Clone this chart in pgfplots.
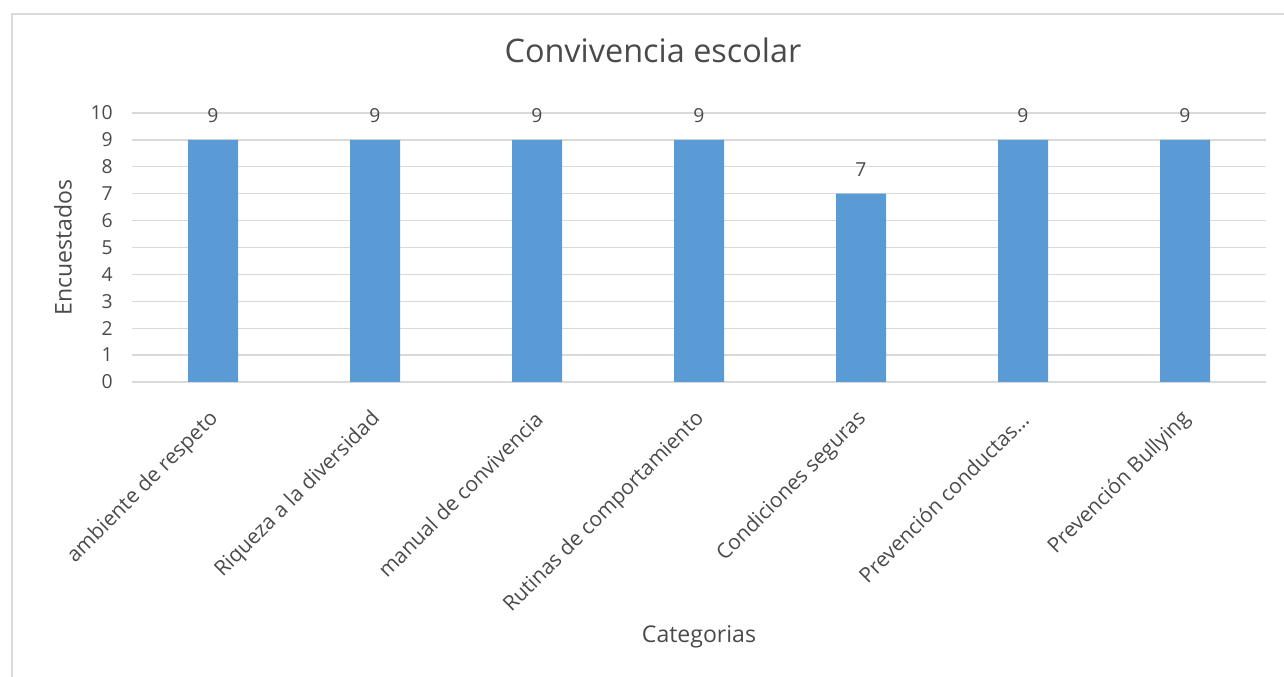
\documentclass[border=0pt]{standalone}
\usepackage{pgfplots}
\pgfplotsset{compat=1.18}
\usepackage{fontspec}
\setmainfont{Open Sans}
\definecolor{barblue}{HTML}{5B9BD5}
\definecolor{gridgray}{HTML}{D9D9D9}
\definecolor{txt}{HTML}{4A4A4A}
\begin{document}
\begin{tikzpicture}
\path[use as bounding box] (0,0) rectangle (963pt,507.75pt);
\draw[gridgray, line width=1.2pt] (9pt,0) -- (9pt,497.25pt) -- (963pt,497.25pt);
\begin{axis}[
  at={(99pt,221.25pt)}, anchor=south west,
  scale only axis, width=850.5pt, height=201.75pt,
  xmin=-0.5, xmax=6.5, ymin=0, ymax=10,
  ybar, bar width=37.5pt,
  axis line style={draw=none},
  axis x line*=bottom,
  x axis line style={draw=gridgray, line width=1pt},
  ymajorgrids, grid style={gridgray, line width=1pt},
  major tick length=0pt,
  xtick=data,
  xticklabels={ambiente de respeto, Riqueza a la diversidad, manual de convivencia, Rutinas de comportamiento, Condiciones seguras, Prevención conductas\dots, Prevención Bullying},
  ytick={0,1,...,10},
  /pgf/number format/assume math mode=true,
  yticklabel style={font=\fontsize{14.5}{16}\selectfont, text=txt, xshift=-11pt},
  xticklabel style={font=\fontsize{15.7}{17}\selectfont, text=txt, rotate=45, anchor=east, xshift=-13.5pt, yshift=-19pt},
  nodes near coords,
  every node near coord/.append style={font=\fontsize{14.5}{16}\selectfont, text=txt, yshift=9pt},
  ylabel={Encuestados},
  ylabel style={font=\fontsize{17.3}{19}\selectfont, text=txt, at={(axis description cs:-0.0608,0.5)}, anchor=center},
  xlabel={Categorias},
  xlabel style={font=\fontsize{17.3}{19}\selectfont, text=txt, at={(axis description cs:0.5,-0.948)}, anchor=center},
  title={Convivencia escolar},
  title style={font=\fontsize{24.3}{27}\selectfont, text=txt, at={(axis description cs:0.4594,1.2045)}, anchor=center},
  clip=false,
]
\addplot[fill=barblue, draw=none] coordinates {(0,9) (1,9) (2,9) (3,9) (4,7) (5,9) (6,9)};
\end{axis}
\end{tikzpicture}
\end{document}
